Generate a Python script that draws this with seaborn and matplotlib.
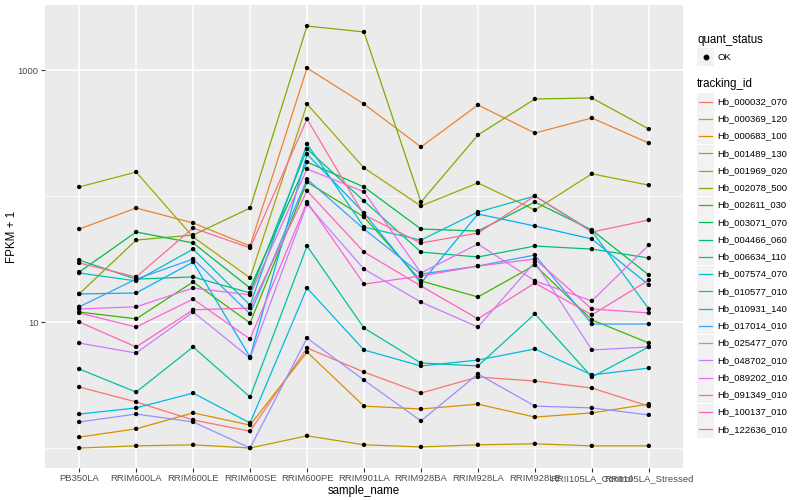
import numpy as np
import pandas as pd
import matplotlib
matplotlib.use('Agg')
import matplotlib.pyplot as plt
import seaborn as sns
from matplotlib.patches import Rectangle
from matplotlib.lines import Line2D
from matplotlib.ticker import FixedLocator, NullFormatter

samples = ['PB350LA', 'RRIM600LA', 'RRIM600LE', 'RRIM600SE', 'RRIM600PE', 'RRIM901LA',
           'RRIM928BA', 'RRIM928LA', 'RRIM928LE', 'RRII105LA_Control', 'RRII105LA_Stressed']

# FPKM + 1 per gene, one value per sample
hb_000032_070 = [3.05, 2.32, 1.67, 1.36, 6.22, 4.01, 2.73, 3.66, 3.40, 2.99, 2.15]
hb_000369_120 = [54.7, 80.3, 61.1, 40.1, 1037, 537, 245, 528, 316, 416, 263]
hb_000683_100 = [1.22, 1.42, 1.90, 1.52, 5.78, 2.15, 2.04, 2.23, 1.76, 1.90, 2.23]
hb_001489_130 = [1.00, 1.04, 1.06, 1.00, 1.25, 1.06, 1.02, 1.06, 1.08, 1.04, 1.04]
hb_001969_020 = [118, 155, 47.3, 22.4, 537, 167, 83.3, 127, 77.4, 150, 122]
hb_002078_500 = [16.7, 44.7, 49.0, 80.3, 2234, 2004, 89.6, 305, 589, 600, 340]
hb_002611_030 = [12.0, 10.6, 20.8, 9.82, 129, 68.1, 21.2, 15.8, 28.3, 10.4, 6.81]
hb_003071_070 = [24.9, 51.8, 42.4, 18.6, 186, 118, 54.7, 52.7, 89.6, 53.7, 23.6]
hb_004466_060 = [31.0, 21.9, 22.8, 17.0, 236, 91.3, 35.9, 32.8, 40.1, 37.9, 32.2]
hb_006634_110 = [4.24, 2.78, 6.34, 2.54, 40.1, 8.96, 4.73, 4.48, 11.6, 3.66, 6.34]
hb_007574_070 = [24.5, 21.2, 37.9, 13.6, 259, 56.7, 44.7, 74.6, 100, 52.7, 12.7]
hb_010577_010 = [1.86, 2.08, 2.73, 1.58, 18.6, 6.00, 4.48, 4.99, 6.11, 3.80, 4.31]
hb_010931_140 = [16.7, 17.0, 29.9, 5.27, 215, 73.3, 20.4, 72.0, 57.8, 45.6, 19.7]
hb_017014_010 = [13.2, 21.9, 31.6, 11.6, 136, 54.7, 24.0, 27.8, 34.0, 9.64, 9.64]
hb_025477_070 = [1.61, 1.86, 1.61, 1.00, 7.46, 3.46, 1.64, 3.87, 2.15, 2.08, 1.83]
hb_048702_010 = [6.81, 5.67, 12.0, 5.18, 86.4, 26.3, 14.4, 9.12, 29.9, 6.00, 6.34]
hb_089202_010 = [12.7, 13.2, 18.6, 16.4, 164, 108, 24.5, 41.6, 21.2, 14.7, 40.8]
hb_091349_010 = [11.8, 9.12, 15.2, 7.33, 89.6, 20.0, 23.2, 27.8, 31.6, 12.7, 11.8]
hb_100137_010 = [10.0, 6.34, 12.5, 12.9, 110, 35.9, 19.3, 10.6, 20.4, 11.4, 21.5]
hb_122636_010 = [29.4, 22.8, 55.7, 38.7, 408, 70.7, 42.4, 50.8, 100, 51.8, 64.5]

tracking_ids = ['Hb_000032_070', 'Hb_000369_120', 'Hb_000683_100', 'Hb_001489_130',
                'Hb_001969_020', 'Hb_002078_500', 'Hb_002611_030', 'Hb_003071_070',
                'Hb_004466_060', 'Hb_006634_110', 'Hb_007574_070', 'Hb_010577_010',
                'Hb_010931_140', 'Hb_017014_010', 'Hb_025477_070', 'Hb_048702_010',
                'Hb_089202_010', 'Hb_091349_010', 'Hb_100137_010', 'Hb_122636_010']
series = [hb_000032_070, hb_000369_120, hb_000683_100, hb_001489_130, hb_001969_020,
          hb_002078_500, hb_002611_030, hb_003071_070, hb_004466_060, hb_006634_110,
          hb_007574_070, hb_010577_010, hb_010931_140, hb_017014_010, hb_025477_070,
          hb_048702_010, hb_089202_010, hb_091349_010, hb_100137_010, hb_122636_010]

# ggplot default hue palette for 20 levels
colors = ['#F8766D', '#EA8331', '#D89000', '#C09B00', '#A3A500', '#7CAE00', '#39B600',
          '#00BB4E', '#00BF7D', '#00C1A3', '#00BFC4', '#00BAE0', '#00B0F6', '#35A2FF',
          '#9590FF', '#C77CFF', '#E76BF3', '#FA62DB', '#FF62BC', '#FF6A98']

rows = []
for tid, vals in zip(tracking_ids, series):
    for s, v in zip(samples, vals):
        rows.append({'tracking_id': tid, 'sample_name': s, 'fpkm1': v, 'quant_status': 'OK'})
df = pd.DataFrame(rows)

plt.rcParams['font.family'] = ['Liberation Sans', 'DejaVu Sans']

W, H = 800, 500
fig = plt.figure(figsize=(8, 5), dpi=100)
ax = fig.add_axes([45 / W, 1 - 468 / H, 638 / W, 463 / H])
ax.set_facecolor('#EBEBEB')
for sp in ax.spines.values():
    sp.set_visible(False)

sns.lineplot(data=df, x='sample_name', y='fpkm1', hue='tracking_id', hue_order=tracking_ids,
             palette=colors, estimator=None, sort=False, linewidth=0.9, legend=False, ax=ax)
sns.scatterplot(data=df, x='sample_name', y='fpkm1', color='black', s=10, edgecolor='none',
                legend=False, ax=ax, zorder=3)

ax.set_yscale('log')
ax.set_ylim(0.694, 3281)
ax.set_xlim(-0.6, 10.6)
ax.yaxis.set_major_locator(FixedLocator([10, 1000]))
ax.set_yticklabels(['10', '1000'])
ax.yaxis.set_minor_locator(FixedLocator([1, 100]))
ax.yaxis.set_minor_formatter(NullFormatter())
ax.tick_params(which='minor', length=0)
ax.tick_params(which='major', length=3, width=0.8, color='#333333', labelcolor='#4D4D4D',
               labelsize=6.8, pad=1.5)
ax.grid(True, which='major', color='white', linewidth=1.1)
ax.grid(True, which='minor', axis='y', color='white', linewidth=0.55)
ax.set_axisbelow(True)

ax.set_xlabel('sample_name', fontsize=8.3, labelpad=1)
ax.set_ylabel('FPKM + 1', fontsize=8.3, labelpad=0)


def fx(x):
    return x / W


def fy(y):
    return 1 - y / H


# legend, drawn by hand ggplot style
fig.text(fx(697), fy(40), 'quant_status', fontsize=8.3, va='center', ha='left')
fig.add_artist(Rectangle((fx(697), fy(65.5)), 17 / W, 17 / H, facecolor='#F2F2F2',
                         edgecolor='none', transform=fig.transFigure))
fig.add_artist(Line2D([fx(705.5)], [fy(57)], marker='o', markersize=3.2, color='black',
                      linestyle='none', transform=fig.transFigure))
fig.text(fx(717), fy(57), 'OK', fontsize=6.8, va='center', ha='left')

fig.text(fx(697), fy(84), 'tracking_id', fontsize=8.3, va='center', ha='left')
for i, (tid, c) in enumerate(zip(tracking_ids, colors)):
    yc = 101.5 + i * 17.25
    fig.add_artist(Rectangle((fx(697), fy(yc + 8.5)), 17 / W, 17 / H, facecolor='#F2F2F2',
                             edgecolor='none', transform=fig.transFigure))
    fig.add_artist(Line2D([fx(699), fx(712)], [fy(yc), fy(yc)], color=c, linewidth=0.9,
                          transform=fig.transFigure))
    fig.text(fx(717), fy(yc), tid, fontsize=6.8, va='center', ha='left')

fig.savefig('out.png', dpi=100)
